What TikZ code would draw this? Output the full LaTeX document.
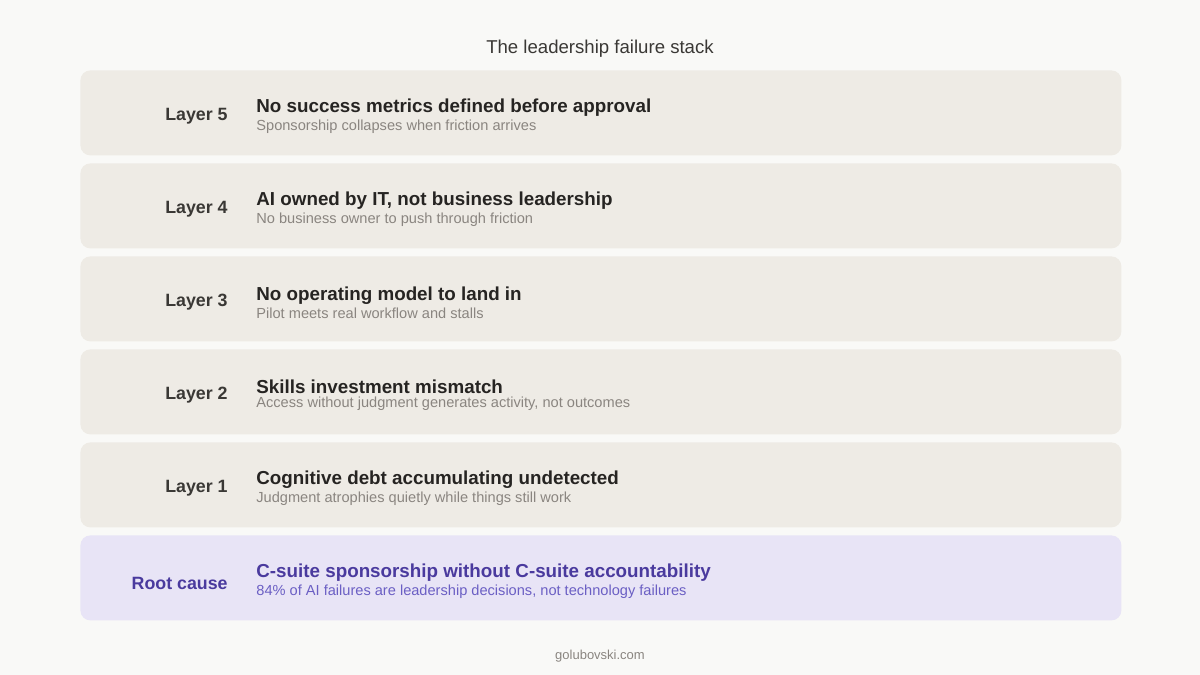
\documentclass[tikz,border=0pt]{standalone}
\usepackage{fontspec}
\setmainfont{Liberation Sans}
\usetikzlibrary{positioning}

\definecolor{pagebg}{HTML}{F9F9F7}
\definecolor{rowfill}{HTML}{EEEBE5}
\definecolor{rootfill}{HTML}{E8E4F6}
\definecolor{labelink}{HTML}{3A3835}
\definecolor{headink}{HTML}{262422}
\definecolor{subink}{HTML}{8A8580}
\definecolor{rootink}{HTML}{4A3A9E}
\definecolor{rootsub}{HTML}{6B5FC4}

\tikzset{layer box/.style={fill=rowfill,draw=none,rounded corners=5pt,minimum width=520.5pt,minimum height=42.5pt,inner sep=0pt,anchor=north west},
root box/.style={layer box,fill=rootfill},
layer label/.style={font=\fontsize{8.9}{10}\selectfont\bfseries,text=labelink,anchor=east,inner sep=0pt},
layer head/.style={font=\fontsize{9.4}{11}\selectfont\bfseries,text=headink,anchor=base west,inner sep=0pt},
layer sub/.style={font=\fontsize{7.3}{8}\selectfont,text=subink,anchor=base west,inner sep=0pt},
chart title/.style={font=\fontsize{9.3}{11}\selectfont,text=labelink,inner sep=0pt},
footer/.style={font=\fontsize{6.5}{8}\selectfont,text=subink,inner sep=0pt}}

\begin{document}
\begin{tikzpicture}[x=0.5pt,y=-0.5pt]

%% canvas
\fill [pagebg] (0,0) rectangle (1200,675);
\useasboundingbox (0,0) rectangle (1200,675);

%% title
\node [chart title] (title) at (600,49) {The leadership failure stack};

%% rows
\node [layer box] (row5) at (80,70) {};
\node [layer box] (row4) at (80,163) {};
\node [layer box] (row3) at (80,256) {};
\node [layer box] (row2) at (80,349) {};
\node [layer box] (row1) at (80,442) {};
\node [root box] (root) at (80,535) {};

%% row labels
\node [layer label] (lab5) at (228,116) {Layer 5};
\node [layer label] (lab4) at (228,209) {Layer 4};
\node [layer label] (lab3) at (228,302) {Layer 3};
\node [layer label] (lab2) at (228,395) {Layer 2};
\node [layer label] (lab1) at (228,488) {Layer 1};
\node [layer label,text=rootink] (labroot) at (228,583) {Root cause};

%% headings
\node [layer head] (head5) at (256,112) {No success metrics defined before approval};
\node [layer head] (head4) at (256,205) {AI owned by IT, not business leadership};
\node [layer head] (head3) at (256,300) {No operating model to land in};
\node [layer head] (head2) at (256,393) {Skills investment mismatch};
\node [layer head] (head1) at (256,484) {Cognitive debt accumulating undetected};
\node [layer head,text=rootink] (headroot) at (256,577) {C-suite sponsorship without C-suite accountability};

%% sub lines
\node [layer sub] (sub5) at (256,130) {Sponsorship collapses when friction arrives};
\node [layer sub] (sub4) at (256,223) {No business owner to push through friction};
\node [layer sub] (sub3) at (256,318) {Pilot meets real workflow and stalls};
\node [layer sub] (sub2) at (256,407) {Access without judgment generates activity, not outcomes};
\node [layer sub] (sub1) at (256,502) {Judgment atrophies quietly while things still work};
\node [layer sub,text=rootsub] (subroot) at (256,595) {84\% of AI failures are leadership decisions, not technology failures};

%% footer
\node [footer] (credit) at (600,656) {golubovski.com};

\end{tikzpicture}
\end{document}
